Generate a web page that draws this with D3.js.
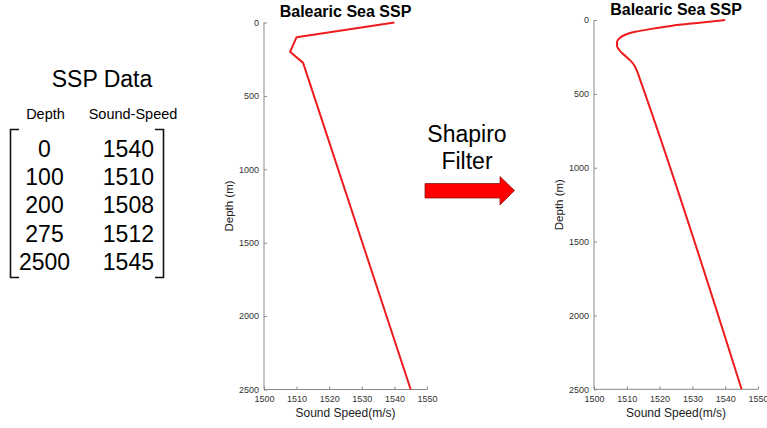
<!DOCTYPE html>
<html><head><meta charset="utf-8">
<script src="https://cdn.jsdelivr.net/npm/d3@7"></script>
<style>body{margin:0;background:#fff}svg{display:block;font-family:"Liberation Sans",Arial,sans-serif}</style>
</head><body><svg id="c" width="767" height="428"></svg>
<script>
// Raw SSP data (table + left chart)
const rawDepth = [0, 100, 200, 275, 2500];
const rawSpeed = [1540, 1510, 1508, 1512, 1545];
// Shapiro-filtered profile
const smoothDepth = [0, 20, 40, 60, 80, 100, 125, 150, 175, 200, 225, 250, 275, 300, 350, 400, 2500];
const smoothSpeed = [1540, 1531.5, 1523.5, 1517.5, 1512.5, 1509.5, 1507.7, 1507.0, 1507.0, 1507.6, 1508.6, 1509.9, 1511.1, 1512.1, 1513.2, 1514.0, 1545];
const xTicks = [1500, 1510, 1520, 1530, 1540, 1550];
const yTicks = [0, 500, 1000, 1500, 2000, 2500];
const tableHeaders = ["Depth", "Sound-Speed"];
const titleText = "Balearic Sea SSP";

const svg = d3.select("#c");
const axisCol = "#8a8a8a", tickTxt = "#333";

function chart(x0, x1, y0, y1, titleY, depth, speed, curve) {
  const x = d3.scaleLinear().domain([1500, 1550]).range([x0, x1]);
  const y = d3.scaleLinear().domain([0, 2500]).range([y0, y1]);
  const g = svg.append("g");
  const ax = g.append("g").attr("transform", `translate(0,${y1})`)
    .call(d3.axisBottom(x).tickValues(xTicks).tickSize(-3).tickPadding(6).tickFormat(d3.format("d")));
  const ay = g.append("g").attr("transform", `translate(${x0},0)`)
    .call(d3.axisLeft(y).tickValues(yTicks).tickSize(-3).tickPadding(5).tickFormat(d3.format("d")));
  [ax, ay].forEach(a => {
    a.select(".domain").attr("stroke", axisCol).attr("stroke-width", 1);
    a.selectAll(".tick line").attr("stroke", axisCol);
    a.selectAll(".tick text").attr("fill", tickTxt).attr("font-size", 9).attr("font-family", "Liberation Sans, Arial, sans-serif");
  });
  ax.select(".domain").attr("d", `M${x0},0H${x1}`);
  ay.select(".domain").attr("d", `M0,${y0}V${y1}`);
  const pts = depth.map((d, i) => [speed[i], d]);
  g.append("path").datum(pts)
    .attr("d", d3.line().x(p => x(p[0])).y(p => y(p[1])).curve(curve))
    .attr("fill", "none").attr("stroke", "#ee1c1c").attr("stroke-width", 2).attr("stroke-linejoin", "round");
  g.append("text").attr("x", (x0 + x1) / 2).attr("y", titleY).attr("text-anchor", "middle")
    .attr("font-weight", "bold").attr("font-size", 16).text(titleText);
  g.append("text").attr("x", (x0 + x1) / 2).attr("y", 417).attr("text-anchor", "middle")
    .attr("font-size", 12).attr("fill", "#222").text("Sound Speed(m/s)");
  g.append("text").attr("transform", `translate(${x0 - 31},${(y0 + y1) / 2}) rotate(-90)`)
    .attr("text-anchor", "middle").attr("font-size", 11.5).attr("fill", "#222").text("Depth (m)");
}

chart(264, 427, 22.5, 389.5, 17, rawDepth, rawSpeed, d3.curveLinear);
chart(594, 758, 20, 389.3, 15, smoothDepth, smoothSpeed, d3.curveMonotoneY);

// Left table
svg.append("text").attr("x", 102).attr("y", 86.5).attr("text-anchor", "middle").attr("font-size", 23).text("SSP Data");
svg.append("text").attr("x", 45.5).attr("y", 119).attr("text-anchor", "middle").attr("font-size", 14.5).text(tableHeaders[0]);
svg.append("text").attr("x", 133).attr("y", 119).attr("text-anchor", "middle").attr("font-size", 14.5).text(tableHeaders[1]);
const rowY = d3.scaleLinear().domain([0, 4]).range([156.5, 270]);
rawDepth.forEach((d, i) => {
  svg.append("text").attr("x", 44.5).attr("y", rowY(i)).attr("text-anchor", "middle").attr("font-size", 23).text(d);
  svg.append("text").attr("x", 154).attr("y", rowY(i)).attr("text-anchor", "end").attr("font-size", 23).text(rawSpeed[i]);
});
svg.append("path").attr("d", "M19,129.5H10.5V277.5H19").attr("fill", "none").attr("stroke", "#111").attr("stroke-width", 1.6);
svg.append("path").attr("d", "M155,129.5H163.5V277.5H155").attr("fill", "none").attr("stroke", "#111").attr("stroke-width", 1.6);

// Arrow + label
svg.append("text").attr("x", 467).attr("y", 141.5).attr("text-anchor", "middle").attr("font-size", 23).text("Shapiro");
svg.append("text").attr("x", 467).attr("y", 168.5).attr("text-anchor", "middle").attr("font-size", 23).text("Filter");
svg.append("path").attr("d", "M425,183.5H500V176.5L514.5,190.5L500,205V198H425Z")
  .attr("fill", "#ff0000").attr("stroke", "#8b1a1a").attr("stroke-width", 0.8);
</script></body></html>
